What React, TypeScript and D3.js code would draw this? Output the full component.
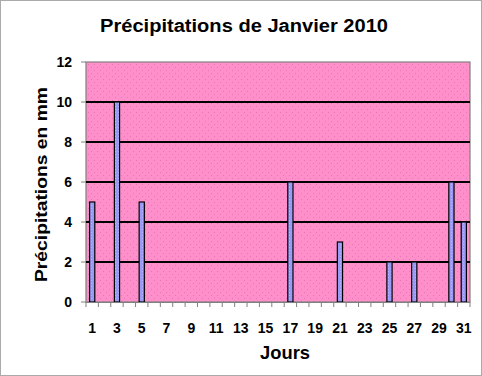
import React from "react";
import * as d3 from "d3";

const days = d3.range(1, 32);
const values: Record<number, number> = { 1: 5, 3: 10, 5: 5, 17: 6, 21: 3, 25: 2, 27: 2, 30: 6, 31: 4 };
const yTicks = [0, 2, 4, 6, 8, 10, 12];
const title = "Précipitations de Janvier 2010";
const yLabel = "Précipitations en mm";
const xLabel = "Jours";

export default function App() {
  const W = 482, H = 376;
  const L = 86, R = 470, T = 62, B = 302;
  const x = d3.scaleBand<number>().domain(days).range([L, R]).paddingInner(0.58).paddingOuter(0.29);
  const xb = d3.scaleBand<number>().domain(days).range([L, R]);
  const y = d3.scaleLinear().domain([0, 12]).range([B, T]);
  const font = "Arial, 'Liberation Sans', sans-serif";
  return (
    <svg width={W} height={H} style={{ position: "absolute", left: 0, top: 0 }}>
      <defs>
        <pattern id="dots" width="6" height="6" patternUnits="userSpaceOnUse">
          <rect width="6" height="6" fill="#FF8FCB" />
          <rect x="1" y="1" width="1" height="1" fill="#E07AB0" />
          <rect x="4" y="4" width="1" height="1" fill="#E07AB0" />
        </pattern>
        <pattern id="bdots" width="3" height="3" patternUnits="userSpaceOnUse">
          <rect width="3" height="3" fill="#9A9AF6" />
          <rect x="1" y="1" width="1" height="1" fill="#B8B8FF" />
        </pattern>
      </defs>
      <rect x={0.5} y={0.5} width={W - 1} height={H - 1} fill="white" stroke="#555" strokeDasharray="1,1" />
      <text x={244} y={32} textAnchor="middle" fontFamily={font} fontWeight="bold" fontSize={17.5} textLength={288} lengthAdjust="spacingAndGlyphs" fill="#000">{title}</text>
      <rect x={L} y={T} width={R - L} height={B - T} fill="url(#dots)" stroke="#808080" strokeWidth={1.2} />
      {yTicks.filter(t => t > 0 && t < 12).map(t => (
        <line key={t} x1={L} x2={R} y1={y(t)} y2={y(t)} stroke="#000" strokeWidth={2} />
      ))}
      {yTicks.map(t => (
        <g key={"yt" + t}>
          <line x1={L - 5} x2={L} y1={y(t)} y2={y(t)} stroke="#808080" />
          <text x={72} y={y(t) + 5} textAnchor="end" fontFamily={font} fontWeight="bold" fontSize={14}>{t}</text>
        </g>
      ))}
      {days.filter(d => values[d] !== undefined).map(d => (
        <rect key={d} x={x(d)!} y={y(values[d])} width={x.bandwidth()} height={B - y(values[d])}
          fill="url(#bdots)" stroke="#000" strokeWidth={1.2} />
      ))}
      <line x1={L} x2={R} y1={B + 0.5} y2={B + 0.5} stroke="#808080" strokeWidth={1.2} />
      {days.concat([32]).map(d => {
        const px = d <= 31 ? xb(d)! : R;
        return <line key={"xt" + d} x1={px} x2={px} y1={B} y2={B + 5} stroke="#808080" />;
      })}
      {days.filter(d => d % 2 === 1).map(d => (
        <text key={"xl" + d} x={xb(d)! + xb.bandwidth() / 2} y={333} textAnchor="middle" fontFamily={font} fontWeight="bold" fontSize={14}>{d}</text>
      ))}
      <text x={285} y={359} textAnchor="middle" fontFamily={font} fontWeight="bold" fontSize={18} textLength={50} lengthAdjust="spacingAndGlyphs">{xLabel}</text>
      <text transform={`translate(47,184.5) rotate(-90)`} textAnchor="middle" fontFamily={font} fontWeight="bold" fontSize={17} textLength={195} lengthAdjust="spacingAndGlyphs">{yLabel}</text>
    </svg>
  );
}
